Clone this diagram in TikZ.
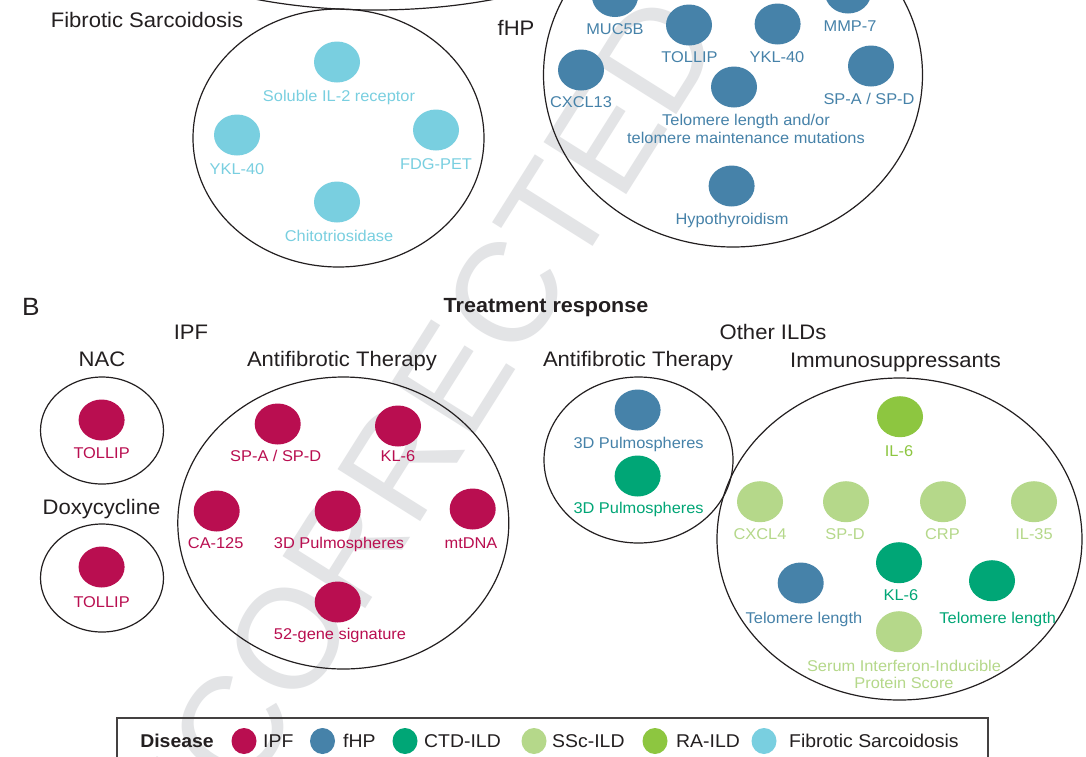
\documentclass[tikz,border=0pt]{standalone}
\usepackage{fontspec}
\setmainfont{Liberation Sans}[FakeStretch=1.05]
\newfontfamily\wmfont{Liberation Sans}
\usetikzlibrary{shapes.geometric}

\definecolor{ipf}{HTML}{B90E50}
\definecolor{fhp}{HTML}{4682A9}
\definecolor{ctd}{HTML}{00A676}
\definecolor{ssc}{HTML}{B5D88A}
\definecolor{ra}{HTML}{8DC640}
\definecolor{sarc}{HTML}{79CFE0}
\definecolor{wmgray}{HTML}{E3E4E6}
\definecolor{inkdark}{HTML}{231F20}

\begin{document}
\begin{tikzpicture}[x=1pt,y=-1pt,
  ring/.style={draw=inkdark, line width=1.2pt, ellipse, inner sep=0pt},
  dot/.style={ellipse, inner sep=0pt, minimum width=46pt, minimum height=41pt, fill=#1},
  lab/.style={text=#1, font=\fontsize{15.6}{18}\selectfont, inner sep=0pt,
              text height=11.2pt, text depth=0pt},
  head/.style={text=inkdark, font=\fontsize{21}{24}\selectfont, inner sep=0pt,
               text height=15pt, text depth=0pt},
  boldhead/.style={text=inkdark, font=\fontsize{20.5}{24}\selectfont\bfseries, inner sep=0pt,
               text height=14.7pt, text depth=0pt},
  keydot/.style={ellipse, inner sep=0pt, minimum width=25pt, minimum height=26pt, fill=#1},
  keylab/.style={text=inkdark, font=\fontsize{18.5}{20}\selectfont, inner sep=0pt,
               text height=13.2pt, text depth=0pt, anchor=west},
  watermark/.style={text=wmgray, font=\wmfont\fontsize{142}{150}\selectfont, inner sep=0pt}
]
\useasboundingbox (0,0) rectangle (1086,756);
\clip (0,0) rectangle (1086,756);
\fill[white] (0,0) rectangle (1086,756);

% diagonal proof watermark
\node[watermark, rotate=57.8, anchor=base west] (wm) at (136.6,972) {UNCORRECTED PROOF};

% ---------------- Panel A (lower part) ----------------
\node[ring, minimum width=552pt, minimum height=220pt] (toparc) at (375,-100) {};

% Fibrotic sarcoidosis
\node[head] (hsarc) at (147,20) {Fibrotic Sarcoidosis};
\node[ring, minimum width=291pt, minimum height=258pt] (sarcring) at (338.5,138) {};
\node[dot=sarc] (sa1) at (337,62) {};
\node[lab=sarc] (sa1l) at (339,96) {Soluble IL-2 receptor};
\node[dot=sarc] (sa2) at (237,135) {};
\node[lab=sarc] (sa2l) at (237,169) {YKL-40};
\node[dot=sarc] (sa3) at (436,130) {};
\node[lab=sarc] (sa3l) at (436,164) {FDG-PET};
\node[dot=sarc] (sa4) at (337,202) {};
\node[lab=sarc] (sa4l) at (339,236) {Chitotriosidase};

% fHP
\node[head] (hfhp) at (516,28) {fHP};
\node[ring, minimum width=379pt, minimum height=344pt] (fhpring) at (733,75) {};
\node[dot=fhp] (fh1) at (615,-3.5) {};
\node[lab=fhp] (fh1l) at (615,29) {MUC5B};
\node[dot=fhp] (fh2) at (689,25) {};
\node[lab=fhp] (fh2l) at (689.5,57) {TOLLIP};
\node[dot=fhp] (fh3) at (777.6,24) {};
\node[lab=fhp] (fh3l) at (777,57) {YKL-40};
\node[dot=fhp] (fh4) at (848,-7) {};
\node[lab=fhp] (fh4l) at (850,26) {MMP-7};
\node[dot=fhp] (fh5) at (581,70) {};
\node[lab=fhp] (fh5l) at (581,102) {CXCL13};
\node[dot=fhp] (fh6) at (734,87) {};
\node[lab=fhp] (fh6l) at (746,120) {Telomere length and/or};
\node[lab=fhp] (fh6m) at (746,138) {telomere maintenance mutations};
\node[dot=fhp] (fh7) at (871,66) {};
\node[lab=fhp] (fh7l) at (869,99) {SP-A / SP-D};
\node[dot=fhp] (fh8) at (731.6,186) {};
\node[lab=fhp] (fh8l) at (732,219) {Hypothyroidism};

% ---------------- Panel B ----------------
\node[text=inkdark, font=\fontsize{25}{28}\selectfont, inner sep=0pt,
      text height=17.9pt, text depth=0pt] (pB) at (31,307) {B};
\node[boldhead] (htr) at (546,305) {Treatment response};

\node[head] (hipf) at (191,332) {IPF};
\node[head] (hnac) at (102,359) {NAC};
\node[head] (hdoxy) at (101.5,507) {Doxycycline};
\node[head] (hipfaf) at (342,359) {Antifibrotic Therapy};
\node[head] (hother) at (773,332) {Other ILDs};
\node[head] (hoaf) at (638,359) {Antifibrotic Therapy};
\node[head] (himm) at (895.6,360) {Immunosuppressants};

% NAC and doxycycline
\node[ring, minimum width=123pt, minimum height=107pt] (nacring) at (102,430.5) {};
\node[dot=ipf] (na1) at (101.6,420) {};
\node[lab=ipf] (na1l) at (101.6,452.7) {TOLLIP};
\node[ring, minimum width=123pt, minimum height=108pt] (doxring) at (102,578) {};
\node[dot=ipf] (dx1) at (101.6,567) {};
\node[lab=ipf] (dx1l) at (101.6,601.7) {TOLLIP};

% IPF antifibrotic therapy
\node[ring, minimum width=331pt, minimum height=292pt] (ipfafring) at (343.3,523) {};
\node[dot=ipf] (ia1) at (277.7,424) {};
\node[lab=ipf] (ia1l) at (275.7,456) {SP-A / SP-D};
\node[dot=ipf] (ia2) at (398,426) {};
\node[lab=ipf] (ia2l) at (398,456) {KL-6};
\node[dot=ipf] (ia3) at (216.7,511) {};
\node[lab=ipf] (ia3l) at (215.7,543) {CA-125};
\node[dot=ipf] (ia4) at (337.7,511) {};
\node[lab=ipf] (ia4l) at (339,543) {3D Pulmospheres};
\node[dot=ipf] (ia5) at (472.7,509) {};
\node[lab=ipf] (ia5l) at (471,543) {mtDNA};
\node[dot=ipf] (ia6) at (337.7,602) {};
\node[lab=ipf] (ia6l) at (340,634) {52-gene signature};

% Other ILDs, antifibrotic therapy
\node[ring, minimum width=189pt, minimum height=166pt] (oafring) at (638.5,460) {};
\node[dot=fhp] (oa1) at (637.6,410) {};
\node[lab=fhp] (oa1l) at (638.6,443) {3D Pulmospheres};
\node[dot=ctd] (oa2) at (637.6,476) {};
\node[lab=ctd] (oa2l) at (638.6,508) {3D Pulmospheres};

% Other ILDs, immunosuppressants
\node[ring, minimum width=365pt, minimum height=322pt] (immring) at (899.5,539) {};
\node[dot=ra] (im1) at (900,416.7) {};
\node[lab=ra] (im1l) at (899,451) {IL-6};
\node[dot=ssc] (im2) at (760,501.7) {};
\node[lab=ssc] (im2l) at (760,534) {CXCL4};
\node[dot=ssc] (im3) at (846,501.7) {};
\node[lab=ssc] (im3l) at (845,534) {SP-D};
\node[dot=ssc] (im4) at (943,501.7) {};
\node[lab=ssc] (im4l) at (942.4,534) {CRP};
\node[dot=ssc] (im5) at (1034,501.7) {};
\node[lab=ssc] (im5l) at (1034,534) {IL-35};
\node[dot=ctd] (im6) at (899,562.7) {};
\node[lab=ctd] (im6l) at (901,595) {KL-6};
\node[dot=fhp] (im7) at (800.7,583) {};
\node[lab=fhp] (im7l) at (804,618) {Telomere length};
\node[dot=ctd] (im8) at (992,580.7) {};
\node[lab=ctd] (im8l) at (997.7,618) {Telomere length};
\node[dot=ssc] (im9) at (899,631.7) {};
\node[lab=ssc] (im9l) at (904,665.7) {Serum Interferon-Inducible};
\node[lab=ssc] (im9m) at (904,683) {Protein Score};

% ---------------- Legend ----------------
\draw[draw=inkdark!85, line width=1.5pt] (117,718) rectangle (988,790);
\node[keylab, anchor=center, font=\fontsize{18.5}{20}\selectfont\bfseries] (kdis) at (177,741) {Disease};
\node[keydot=ipf] (k1) at (244,741) {};
\node[keylab] (k1l) at (263,741) {IPF};
\node[keydot=fhp] (k2) at (322.5,741) {};
\node[keylab] (k2l) at (343,741) {fHP};
\node[keydot=ctd] (k3) at (405,741) {};
\node[keylab] (k3l) at (424,741) {CTD-ILD};
\node[keydot=ssc] (k4) at (534,741) {};
\node[keylab] (k4l) at (552,741) {SSc-ILD};
\node[keydot=ra] (k5) at (655,741) {};
\node[keylab] (k5l) at (676,741) {RA-ILD};
\node[keydot=sarc] (k6) at (764,741) {};
\node[keylab] (k6l) at (789,741) {Fibrotic Sarcoidosis};
\end{tikzpicture}
\end{document}
